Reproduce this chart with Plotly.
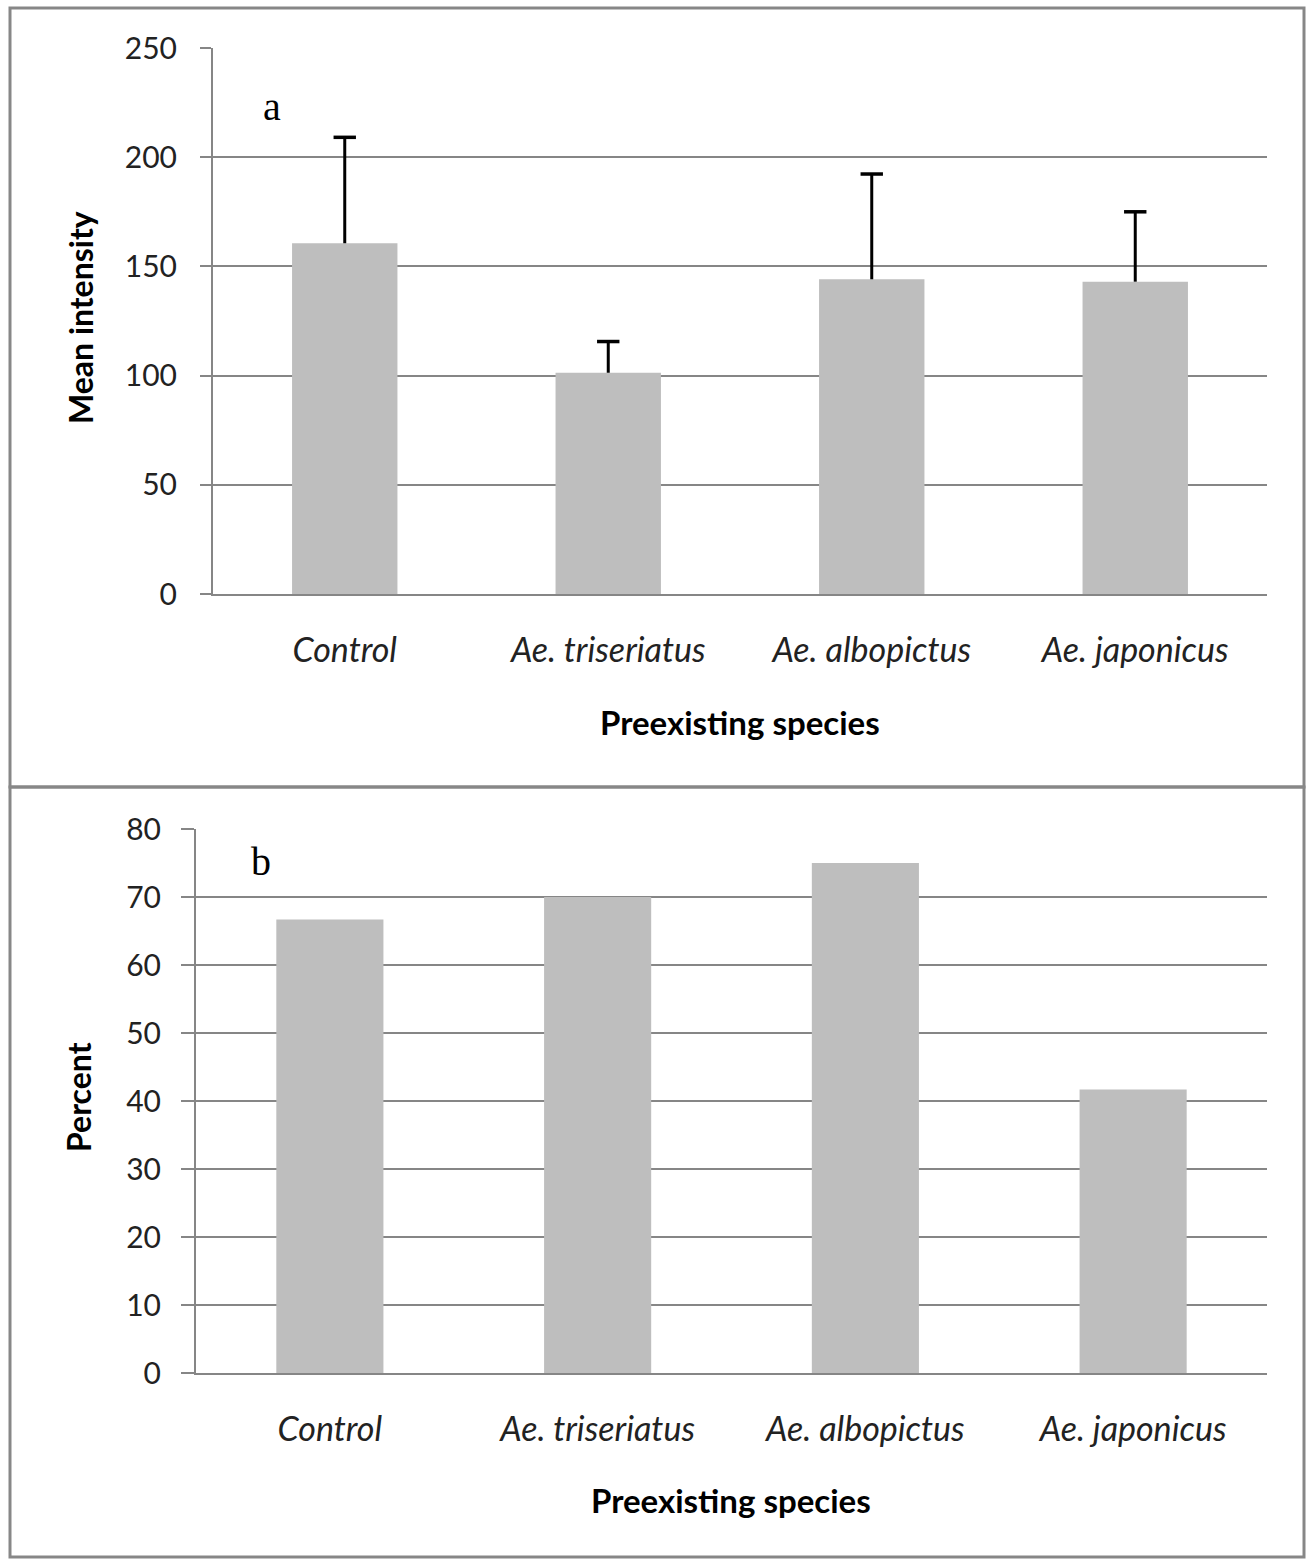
import plotly.graph_objects as go

categories = ["Control", "Ae. triseriatus", "Ae. albopictus", "Ae. japonicus"]
intensity = [160.6, 101.3, 144.1, 143.0]
intensity_err = [48.5, 14.3, 48.2, 32.0]
percent = [66.7, 70.0, 75.0, 41.7]
y1_ticks = [0, 50, 100, 150, 200, 250]
y2_ticks = [0, 10, 20, 30, 40, 50, 60, 70, 80]

W, H = 1307, 1559
def px(x): return x / W
def py(y): return 1 - y / H

GRID = "#868686"
BAR = "#bebebe"
FONT = "Lato"

err_top = [v + e for v, e in zip(intensity, intensity_err)]

fig = go.Figure()
fig.add_trace(go.Bar(x=categories, y=intensity, marker=dict(color=BAR, line=dict(width=0)),
                     error_y=dict(type="data", array=intensity_err, arrayminus=[0]*4, symmetric=False,
                                  color="black", thickness=3, width=0),
                     xaxis="x", yaxis="y", showlegend=False))
fig.add_trace(go.Scatter(x=categories, y=err_top, mode="markers",
                         marker=dict(symbol="line-ew", size=16, line=dict(color="black", width=3.5)),
                         xaxis="x", yaxis="y", showlegend=False, hoverinfo="skip"))
fig.add_trace(go.Bar(x=categories, y=percent, marker=dict(color=BAR, line=dict(width=0)),
                     xaxis="x2", yaxis="y2", showlegend=False))

xcommon = dict(type="category", range=[-0.5, 3.5], showgrid=False, showline=True, linecolor=GRID,
               linewidth=2, ticks="", ticklabelstandoff=25, automargin=False,
               tickfont=dict(family=FONT, size=34, color="#222222", style="italic"),
               fixedrange=True)
ycommon = dict(showgrid=True, gridcolor=GRID, gridwidth=2, showline=True, linecolor=GRID, linewidth=2,
               ticks="outside", tickcolor=GRID, tickwidth=2, zeroline=False, automargin=False,
               fixedrange=True, tickfont=dict(family=FONT, size=30, color="#222222"))

fig.update_layout(
    width=W, height=H, margin=dict(l=0, r=0, t=0, b=0, autoexpand=False),
    paper_bgcolor="white", plot_bgcolor="white", bargap=0.6,
    xaxis=dict(domain=[px(213), px(1267)], anchor="y", **xcommon),
    yaxis=dict(domain=[py(594), py(48)], anchor="x", range=[0, 250], tickvals=y1_ticks,
               ticklen=11, ticklabelstandoff=17, **ycommon),
    xaxis2=dict(domain=[px(196), px(1267)], anchor="y2", **xcommon),
    yaxis2=dict(domain=[py(1373), py(829)], anchor="x2", range=[0, 80], tickvals=y2_ticks,
                ticklen=13, ticklabelstandoff=14, **ycommon),
)

ann = [
    dict(text="a", x=px(272), y=py(106), font=dict(family="Liberation Serif", size=40, color="black")),
    dict(text="b", x=px(261), y=py(862), font=dict(family="Liberation Serif", size=40, color="black")),
    dict(text="<b>Mean intensity</b>", x=px(80), y=py(318), textangle=-90,
         font=dict(family=FONT, size=32, color="black")),
    dict(text="<b>Percent</b>", x=px(78), y=py(1097), textangle=-90,
         font=dict(family=FONT, size=32, color="black")),
    dict(text="<b>Preexisting species</b>", x=px(740), y=py(722),
         font=dict(family=FONT, size=33, color="black")),
    dict(text="<b>Preexisting species</b>", x=px(731), y=py(1500),
         font=dict(family=FONT, size=33, color="black")),
]
for a in ann:
    fig.add_annotation(xref="paper", yref="paper", showarrow=False, xanchor="center", yanchor="middle", **a)

for (y0, y1) in [(8, 787), (787, 1557)]:
    fig.add_shape(type="rect", xref="paper", yref="paper", x0=px(10), x1=px(1304), y0=py(y1), y1=py(y0),
                  line=dict(color="#878787", width=3), fillcolor="rgba(0,0,0,0)", layer="above")

fig.write_html("out.html", config={"displayModeBar": False},
               post_script="document.body.style.margin='0';document.body.style.overflow='hidden';")
